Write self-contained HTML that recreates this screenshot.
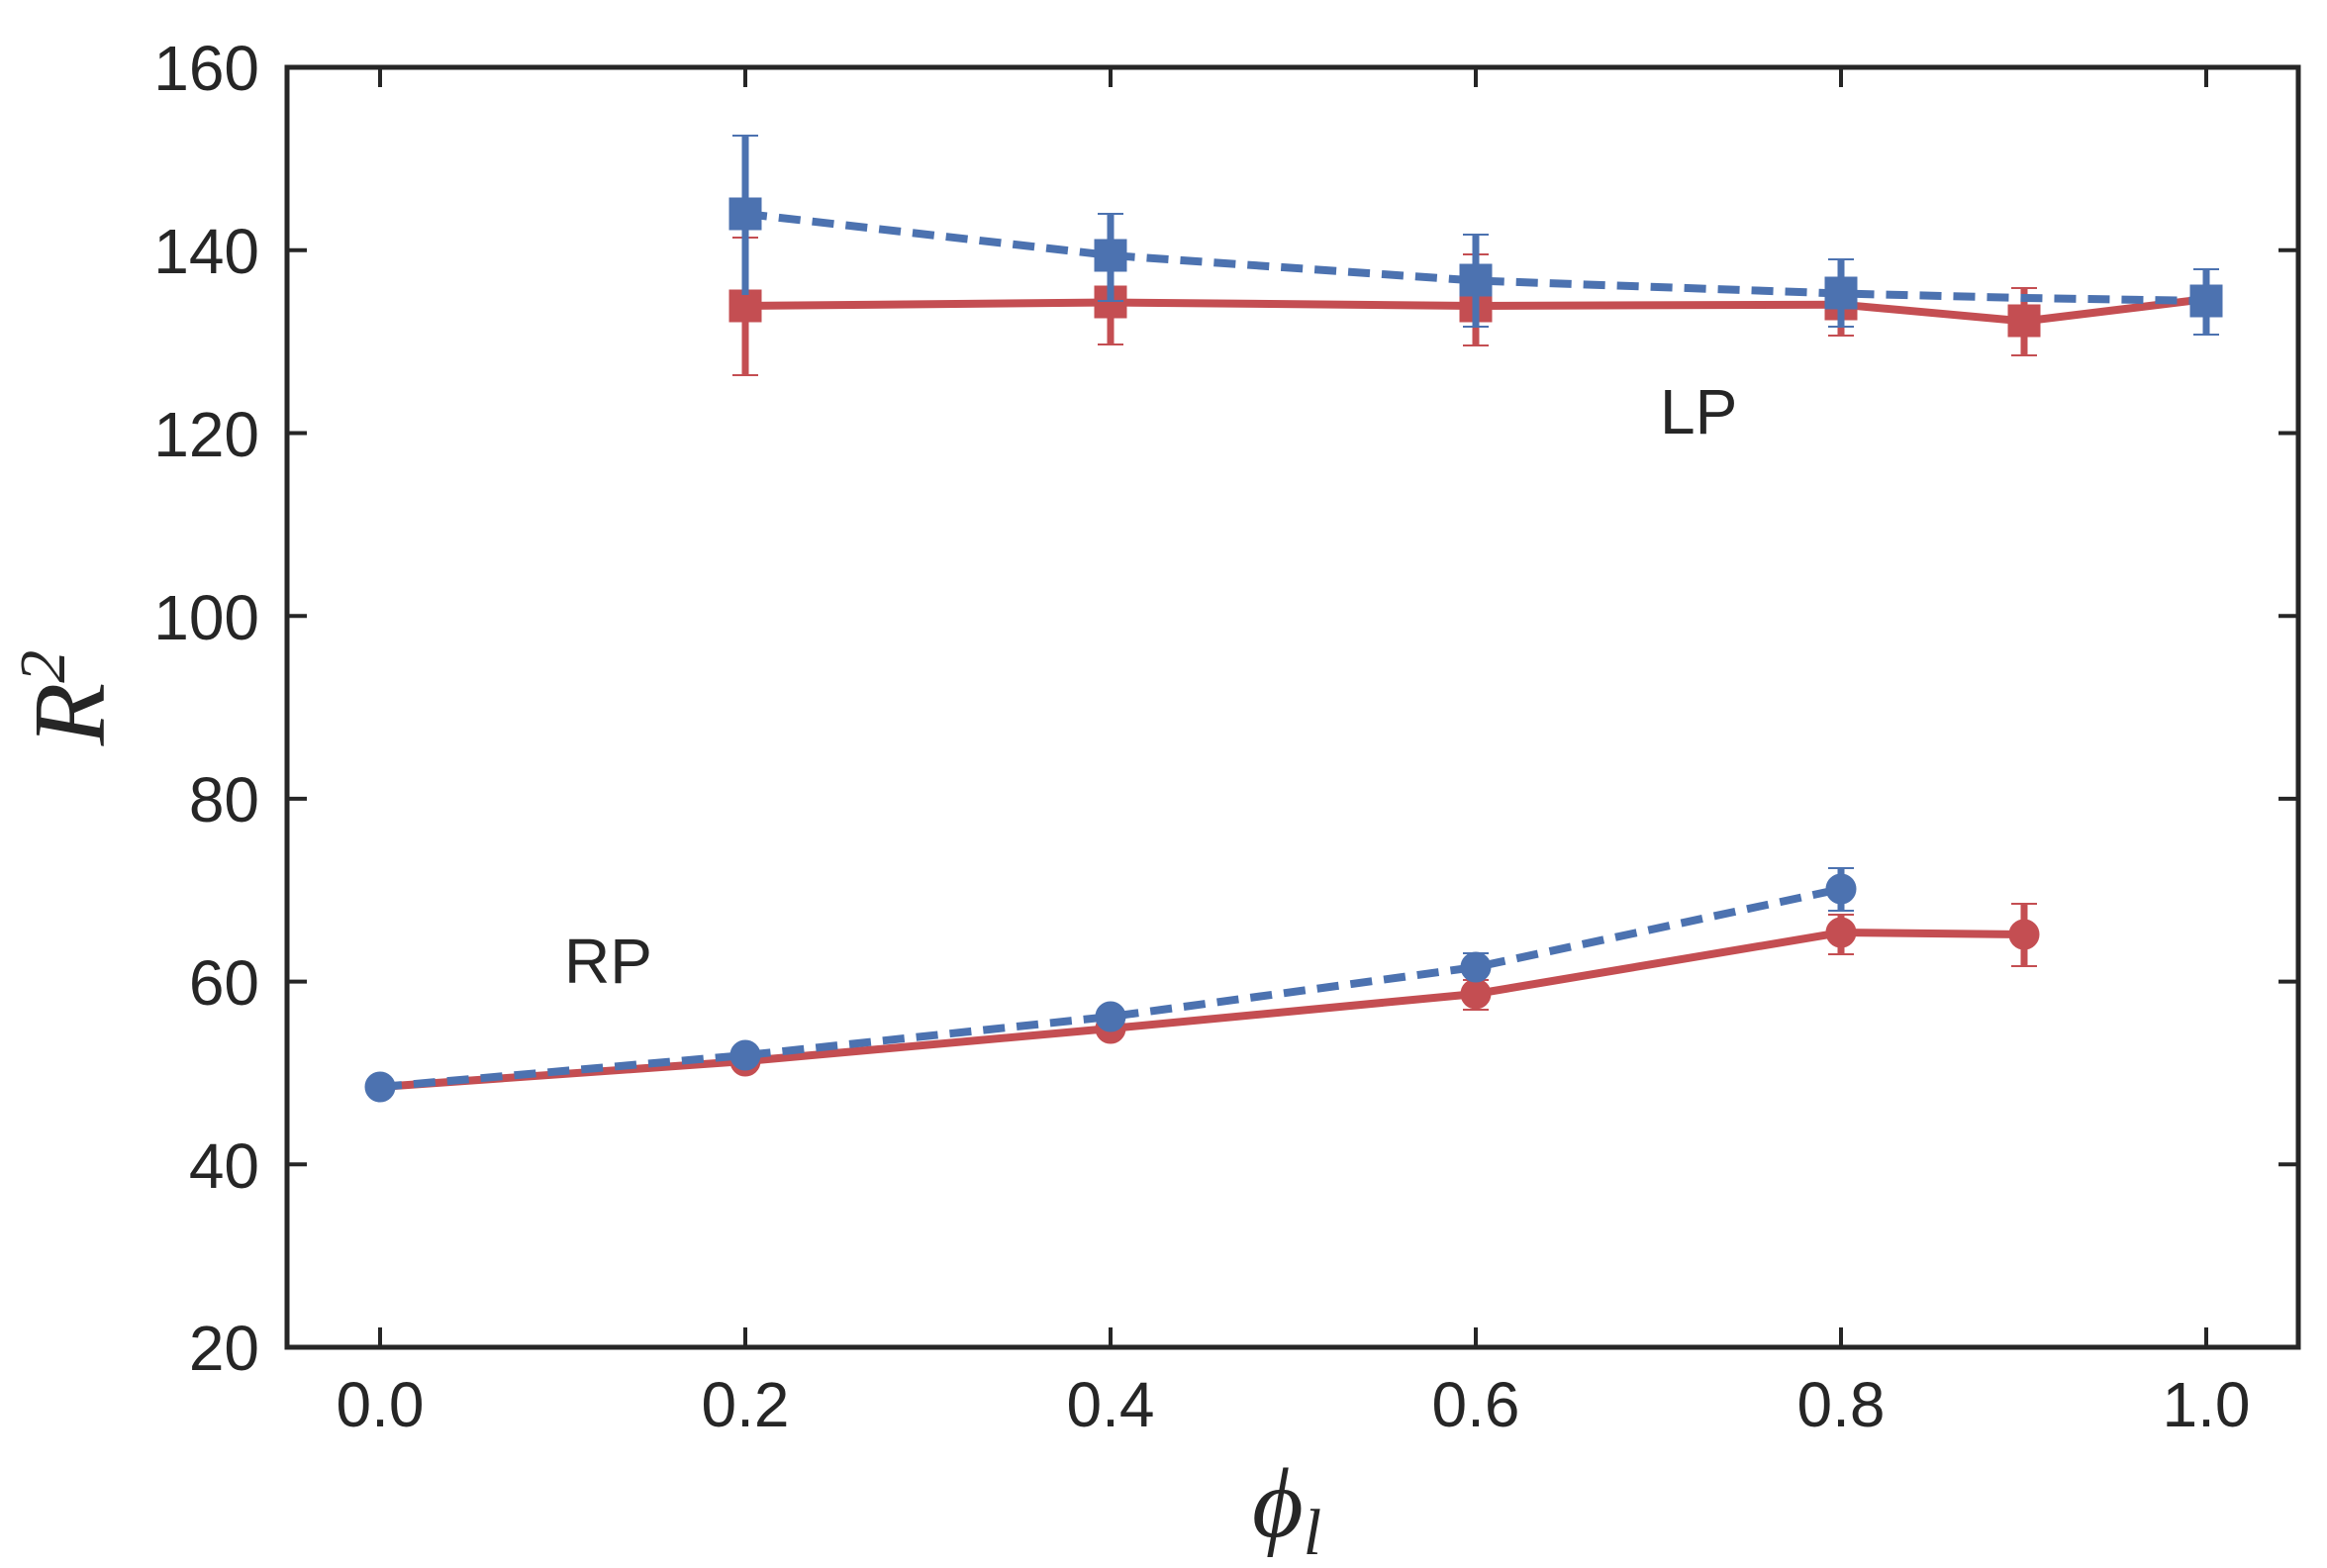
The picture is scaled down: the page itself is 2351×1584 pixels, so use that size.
<!DOCTYPE html>
<html><head><meta charset="utf-8"><style>body{margin:0;background:#fff}svg{display:block}</style></head><body>
<svg width="2351" height="1584" viewBox="0 0 2351 1584" xmlns="http://www.w3.org/2000/svg">
<g font-family="Liberation Sans, sans-serif" font-size="64" fill="#262626">
<g text-anchor="end">
<text x="262" y="91">160</text>
<text x="262" y="276">140</text>
<text x="262" y="461">120</text>
<text x="262" y="646">100</text>
<text x="262" y="830">80</text>
<text x="262" y="1015">60</text>
<text x="262" y="1200">40</text>
<text x="262" y="1384">20</text>
</g>
<g text-anchor="middle">
<text x="384" y="1441">0.0</text>
<text x="753" y="1441">0.2</text>
<text x="1122" y="1441">0.4</text>
<text x="1491" y="1441">0.6</text>
<text x="1860" y="1441">0.8</text>
<text x="2229" y="1441">1.0</text>
</g>
<text x="1677" y="438">LP</text>
<text x="570" y="993">RP</text>
</g>
<text transform="translate(105,705) rotate(-90)" text-anchor="middle" font-family="Liberation Serif, serif" font-style="italic" font-size="104" fill="#262626">R<tspan dy="-40" font-size="66">2</tspan></text>
<text x="1300" y="1552" text-anchor="middle" font-family="Liberation Serif, serif" font-style="italic" font-size="100" fill="#262626">ϕ<tspan dy="18" font-size="66">l</tspan></text>
<g stroke="#262626" stroke-width="4">
<path d="M290 252.7h20M290 437.5h20M290 622.2h20M290 806.9h20M290 991.6h20M290 1176.3h20M2322 252.7h-20M2322 437.5h-20M2322 622.2h-20M2322 806.9h-20M2322 991.6h-20M2322 1176.3h-20"/>
<path d="M384 1361v-20M753 1361v-20M1122 1361v-20M1491 1361v-20M1860 1361v-20M2229 1361v-20M384 68v20M753 68v20M1122 68v20M1491 68v20M1860 68v20M2229 68v20"/>
<rect x="290" y="68" width="2032" height="1293" fill="none" stroke-width="5"/>
</g>
<!-- LP red -->
<g stroke="#C44E52" fill="#C44E52">
<path d="M753 240V379M1122 254V348M1491 257V349M1860 287V339M2045 291V359" stroke-width="7" fill="none"/>
<path d="M740 240h26M740 379h26M1109 254h26M1109 348h26M1478 257h26M1478 349h26M1847 287h26M1847 339h26M2032 291h26M2032 359h26" stroke-width="2"/>
<polyline fill="none" stroke-width="8" points="753,309 1122,305.5 1491,309 1860,307.7 2045,324.5 2229,302"/>
<rect x="737" y="293" width="32" height="32"/><rect x="1106" y="289" width="32" height="32"/><rect x="1475" y="293" width="32" height="32"/><rect x="1844" y="291" width="32" height="32"/><rect x="2029" y="308" width="32" height="32"/>
</g>
<!-- LP blue -->
<g stroke="#4C72B0" fill="#4C72B0">
<path d="M753 137V298M1122 216V304M1491 237V330M1860 262V330M2229 272V338" stroke-width="7" fill="none"/>
<path d="M740 137h26M1109 216h26M1109 304h26M1478 237h26M1478 330h26M1847 262h26M1847 330h26M2216 272h26M2216 338h26" stroke-width="2"/>
<polyline fill="none" stroke-width="8" stroke-dasharray="22,12" points="753,216 1122,258 1491,283.5 1860,296.5 2045,301 2229,304"/>
<rect x="737" y="200" width="32" height="32"/><rect x="1106" y="242" width="32" height="32"/><rect x="1475" y="267" width="32" height="32"/><rect x="1844" y="280" width="32" height="32"/><rect x="2213" y="288" width="32" height="32"/>
</g>
<!-- RP red -->
<g stroke="#C44E52" fill="#C44E52">
<path d="M1491 990V1020M1860 924V964M2045 913V976" stroke-width="7" fill="none"/>
<path d="M1478 990h26M1478 1020h26M1847 924h26M1847 964h26M2032 913h26M2032 976h26" stroke-width="2"/>
<polyline fill="none" stroke-width="8" points="384,1098 753,1072 1122,1039 1491,1004 1860,942 2045,944"/>
<circle cx="753" cy="1072" r="15"/><circle cx="1122" cy="1039" r="15"/><circle cx="1491" cy="1004" r="15"/><circle cx="1860" cy="942" r="15"/><circle cx="2045" cy="944" r="15"/>
</g>
<!-- RP blue -->
<g stroke="#4C72B0" fill="#4C72B0">
<path d="M1491 963V988M1860 877V920" stroke-width="7" fill="none"/>
<path d="M1478 963h26M1847 877h26M1847 920h26" stroke-width="2"/>
<polyline fill="none" stroke-width="8" stroke-dasharray="22,12" points="384,1098 753,1066 1122,1027 1491,977 1860,898"/>
<circle cx="384" cy="1098" r="15"/><circle cx="753" cy="1066" r="15"/><circle cx="1122" cy="1027" r="15"/><circle cx="1491" cy="977" r="15"/><circle cx="1860" cy="898" r="15"/>
</g>
</svg>
</body></html>
